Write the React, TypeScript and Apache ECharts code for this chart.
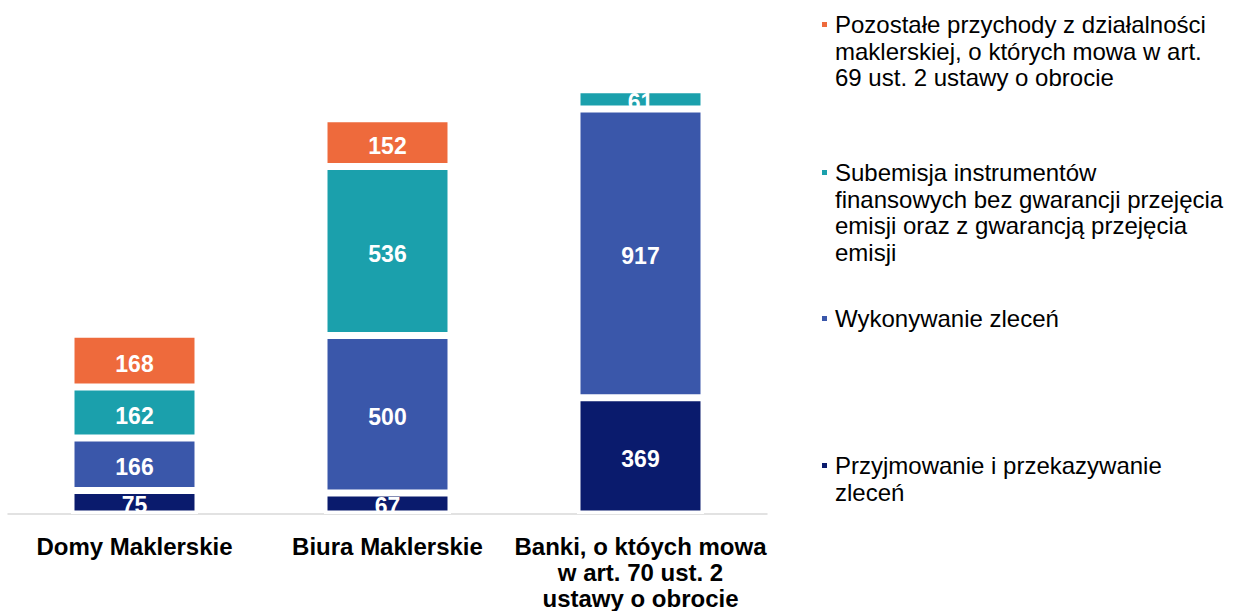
import React, { useEffect, useRef } from "react";
import * as echarts from "echarts";

const categories = [
  "Domy Maklerskie",
  "Biura Maklerskie",
  "Banki, o któych mowa\nw art. 70 ust. 2\nustawy o obrocie",
];

const seriesNames = [
  "Przyjmowanie i przekazywanie zleceń",
  "Wykonywanie zleceń",
  "Subemisja instrumentów finansowych bez gwarancji przejęcia emisji oraz z gwarancją przejęcia emisji",
  "Pozostałe przychody z działalności maklerskiej, o których mowa w art. 69 ust. 2 ustawy o obrocie",
];

const legendLines = [
  ["Przyjmowanie i przekazywanie", "zleceń"],
  ["Wykonywanie zleceń"],
  ["Subemisja instrumentów", "finansowych bez gwarancji przejęcia", "emisji oraz z gwarancją przejęcia", "emisji"],
  ["Pozostałe przychody z działalności", "maklerskiej, o których mowa w art.", "69 ust. 2 ustawy o obrocie"],
];

const przyjmowanie = [75, 67, 369];
const wykonywanie = [166, 500, 917];
const subemisja = [162, 536, 61];
const pozostale: (number | null)[] = [168, 152, null];

const colors = ["#0A1B6D", "#3A57AA", "#1BA0AC", "#EE6A3C"];
const FONT = '"Liberation Sans", Arial, sans-serif';
const LH = 26.7;
// first-line centre y for each legend entry
const legendFirstLineY = [465.5, 318.5, 172.5, 24.5];

export default function App() {
  const ref = useRef<HTMLDivElement>(null);
  useEffect(() => {
    if (!ref.current) return;
    const chart = echarts.init(ref.current, undefined, { renderer: "svg" });
    const values = [przyjmowanie, wykonywanie, subemisja, pozostale];
    const legends = seriesNames.map((name, i) => {
      const lines = legendLines[i];
      const n = lines.length;
      const H = (2 * n - 1) * LH;
      const text = "\n".repeat(n - 1) + lines.join("\n");
      return {
        data: [name],
        left: 820,
        top: legendFirstLineY[i] - H / 2,
        padding: 0,
        orient: "vertical",
        icon: "path://M0,0H7V7H0Z",
        itemWidth: 11,
        itemHeight: 7,
        selectedMode: false,
        formatter: () => text,
        textStyle: {
          fontFamily: FONT,
          fontSize: 24,
          color: "#000000",
          lineHeight: LH,
        },
      };
    });
    chart.setOption({
      animation: false,
      color: colors,
      legend: legends,
      grid: { left: 8, right: 466, top: 10, bottom: 95 },
      xAxis: {
        type: "category",
        data: categories,
        axisLine: { lineStyle: { color: "#D9D9D9", width: 1.5 } },
        axisTick: { show: false },
        axisLabel: {
          interval: 0,
          margin: 19,
          fontFamily: FONT,
          fontSize: 24,
          fontWeight: "bold",
          color: "#000000",
          lineHeight: 26,
        },
      },
      yAxis: {
        type: "value",
        min: 0,
        max: 1600,
        show: false,
        splitLine: { show: false },
      },
      series: seriesNames.map((name, i) => ({
        name,
        type: "bar",
        stack: "total",
        barWidth: 127,
        data: values[i],
        itemStyle: { color: colors[i], borderColor: "#ffffff", borderWidth: 3.5 },
        label: {
          show: true,
          position: "inside",
          offset: [0, 3],
          color: "#ffffff",
          fontFamily: FONT,
          fontSize: 23,
          fontWeight: "bold",
        },
      })),
    });
    return () => chart.dispose();
  }, []);
  return (
    <div
      ref={ref}
      style={{ position: "absolute", left: 0, top: 0, width: 1233, height: 611, background: "#ffffff" }}
    />
  );
}
